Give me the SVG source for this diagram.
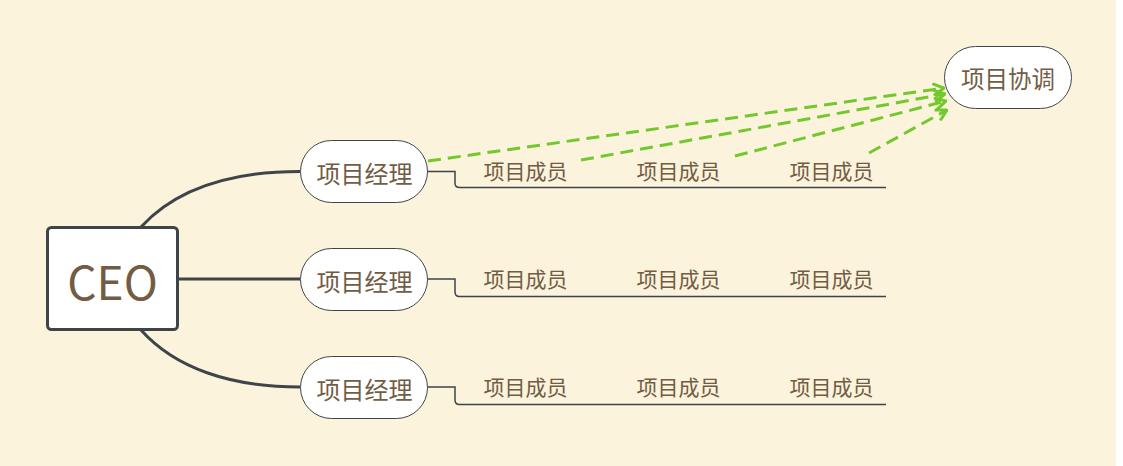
<svg xmlns="http://www.w3.org/2000/svg" width="1123" height="466" viewBox="0 0 1123 466">
<defs>
<style>
.t{font-family:"Noto Sans CJK SC","Noto Sans",sans-serif;fill:#735c44;text-anchor:middle;dominant-baseline:central}
.pill{fill:#ffffff;stroke:#3d4549;stroke-width:1}
.main{fill:none;stroke:#3d4549;stroke-width:3}
.sub{fill:none;stroke:#3d4549;stroke-width:1.5}
.rel{fill:none;stroke:#73c82d;stroke-width:3;stroke-dasharray:13 7}
</style>
<marker id="ah" viewBox="0 0 14 14" refX="13" refY="7" markerWidth="14" markerHeight="14" markerUnits="userSpaceOnUse" orient="auto">
<path d="M2,1 L13,7 L2,13" fill="none" stroke="#73c82d" stroke-width="3" stroke-linejoin="miter"/>
</marker>
</defs>
<rect x="0" y="0" width="1116" height="466" fill="#fbf3dc"/>
<rect x="1116" y="0" width="7" height="466" fill="#ffffff"/>
<g id="connectors">
<path class="main" d="M141,227 C175,190 230,171.5 300,171.5"/>
<path class="main" d="M178,279 L300,279"/>
<path class="main" d="M141,330 C175,368 230,387 300,387"/>
<path class="sub" d="M427,171.5 L455,171.5 L455,183 Q455,187.5 459.5,187.5 L886,187.5"/>
<path class="sub" d="M427,279 L455,279 L455,292 Q455,296.5 459.5,296.5 L886,296.5"/>
<path class="sub" d="M427,387 L455,387 L455,400 Q455,404.5 459.5,404.5 L886,404.5"/>
<path class="rel" d="M428,161 L944,88" marker-end="url(#ah)"/>
<path class="rel" d="M581,160 L945,94" marker-end="url(#ah)"/>
<path class="rel" d="M735,156 L946,101" marker-end="url(#ah)"/>
<path class="rel" d="M869,153 L947,110" marker-end="url(#ah)"/>
</g>
<g id="ceo">
<rect x="47.5" y="227.5" width="130" height="102" rx="4" fill="#ffffff" stroke="#3d4549" stroke-width="3"/>
<text class="t" x="112.5" y="280" font-size="46">CEO</text>
</g>
<g id="pm1">
<rect class="pill" x="300.5" y="140.5" width="127" height="62" rx="31"/>
<text class="t" x="364.5" y="172" font-size="24">项目经理</text>
</g>
<g id="pm2">
<rect class="pill" x="300.5" y="248.5" width="127" height="62" rx="31"/>
<text class="t" x="364.5" y="280" font-size="24">项目经理</text>
</g>
<g id="pm3">
<rect class="pill" x="300.5" y="356.5" width="127" height="62" rx="31"/>
<text class="t" x="364.5" y="388" font-size="24">项目经理</text>
</g>
<g id="coord">
<rect class="pill" x="944.5" y="46.5" width="127" height="62" rx="31"/>
<text class="t" x="1008" y="78" font-size="23.5">项目协调</text>
</g>
<g id="m1a"><text class="t" x="525.5" y="170" font-size="21">项目成员</text></g>
<g id="m1b"><text class="t" x="678.5" y="170" font-size="21">项目成员</text></g>
<g id="m1c"><text class="t" x="831.5" y="170" font-size="21">项目成员</text></g>
<g id="m2a"><text class="t" x="525.5" y="278" font-size="21">项目成员</text></g>
<g id="m2b"><text class="t" x="678.5" y="278" font-size="21">项目成员</text></g>
<g id="m2c"><text class="t" x="831.5" y="278" font-size="21">项目成员</text></g>
<g id="m3a"><text class="t" x="525.5" y="386" font-size="21">项目成员</text></g>
<g id="m3b"><text class="t" x="678.5" y="386" font-size="21">项目成员</text></g>
<g id="m3c"><text class="t" x="831.5" y="386" font-size="21">项目成员</text></g>
</svg>
